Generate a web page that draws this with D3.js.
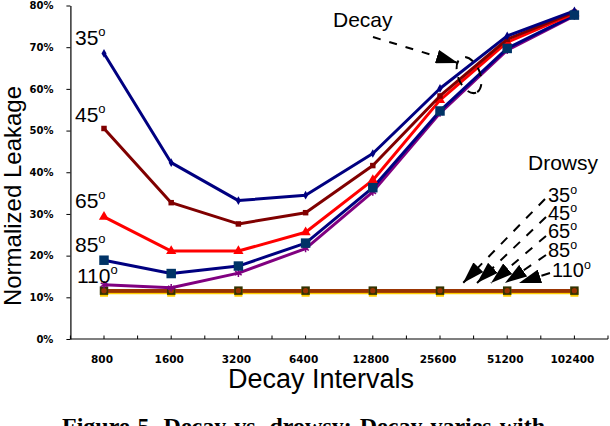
<!DOCTYPE html>
<html><head><meta charset="utf-8">
<script src="https://cdn.jsdelivr.net/npm/d3@7"></script>
<style>body{margin:0;background:#fff}svg{display:block}</style>
</head><body>
<svg id="c" width="610" height="426"></svg>
<script>
// ---- data ----
const categories = ["800","1600","3200","6400","12800","25600","51200","102400"];
const yTickValues = [0,0.1,0.2,0.3,0.4,0.5,0.6,0.7,0.8];
const decay35  = [0.685,0.423,0.332,0.345,0.445,0.601,0.727,0.787];
const decay45  = [0.505,0.327,0.276,0.303,0.416,0.583,0.719,0.784];
const decay65  = [0.293,0.211,0.211,0.256,0.381,0.573,0.712,0.781];
const decay85  = [0.189,0.157,0.175,0.230,0.363,0.547,0.697,0.777];
const decay110 = [0.130,0.123,0.158,0.217,0.353,0.542,0.693,0.775];
const drowsy110 = [0.111,0.111,0.111,0.111,0.111,0.111,0.111,0.111];
const drowsy85  = [0.115,0.115,0.115,0.115,0.115,0.115,0.115,0.115];
const drowsy65  = [0.115,0.115,0.115,0.115,0.115,0.115,0.115,0.115];
const drowsy45  = [0.116,0.116,0.116,0.116,0.116,0.116,0.116,0.116];
const drowsy35  = [0.116,0.116,0.116,0.116,0.116,0.116,0.116,0.116];
const angleLabels = ["35","45","65","85","110"];

const svg = d3.select("#c");
const x = d3.scaleBand().domain(categories).range([70.4, 608]).padding(0);
const y = d3.scaleLinear().domain([0, 0.8]).range([339, 5.5]);
const cx = c => x(c) + x.bandwidth()/2;
const font = "Arial, 'Liberation Sans'";
const tickFont = "'DejaVu Sans', Verdana, sans-serif";

// defs
const defs = svg.append("defs");
defs.append("marker").attr("id","ah").attr("viewBox","0 0 22 14")
  .attr("refX",22).attr("refY",7).attr("markerWidth",22).attr("markerHeight",14)
  .attr("markerUnits","userSpaceOnUse").attr("orient","auto")
  .append("path").attr("d","M0,0 L22,7 L0,14 Z").attr("fill","#000");

// axes
const yAxis = d3.axisLeft(y).tickValues(yTickValues).tickFormat(d3.format(".0%")).tickSize(4).tickSizeOuter(0);
const gy = svg.append("g").attr("transform","translate(70.4,0)").call(yAxis);
gy.select(".domain").attr("stroke","#000").attr("stroke-width",1.2);
gy.selectAll(".tick line").attr("stroke","#000");
gy.selectAll("text").attr("font-family",tickFont).attr("font-weight","bold")
  .attr("font-size",10).attr("x",-17).attr("fill","#000");

// x axis line + ticks at every half band
svg.append("line").attr("x1",x.range()[0]).attr("x2",x.range()[1]).attr("y1",y(0)).attr("y2",y(0))
  .attr("stroke","#000").attr("stroke-width",1.2);
const halfTicks = [];
categories.forEach(c => { halfTicks.push(x(c)); halfTicks.push(cx(c)); });
halfTicks.push(x.range()[1]);
svg.append("g").selectAll("line").data(halfTicks).join("line")
  .attr("x1",d=>d).attr("x2",d=>d).attr("y1",y(0)).attr("y2",y(0)-3.5).attr("stroke","#000");
svg.append("g").selectAll("text").data(categories).join("text")
  .attr("x",c=>cx(c)-2).attr("y",363).attr("text-anchor","middle")
  .attr("font-family",tickFont).attr("font-weight","bold").attr("font-size",10.5)
  .text(c=>c);

// titles
svg.append("text").attr("x",321).attr("y",388).attr("text-anchor","middle")
  .attr("font-family",font).attr("font-size",27).text("Decay Intervals");
svg.append("text").attr("transform","translate(21,196) rotate(-90)").attr("text-anchor","middle")
  .attr("font-family",font).attr("font-size",24).text("Normalized Leakage");

// series
const line = d3.line().x((d,i)=>cx(categories[i])).y(d=>y(d));
function drawSeries(vals, color, width) {
  svg.append("path").datum(vals).attr("d",line).attr("fill","none")
    .attr("stroke",color).attr("stroke-width",width).attr("stroke-linejoin","round");
}
function drawMarkers(vals, type, size, fill, stroke, sw) {
  svg.append("g").selectAll("path").data(vals).join("path")
    .attr("transform",(d,i)=>`translate(${cx(categories[i])},${y(d)})`)
    .attr("d",d3.symbol().type(type).size(size))
    .attr("fill",fill).attr("stroke",stroke||"none").attr("stroke-width",sw||0);
}

// drowsy
drawSeries(drowsy110, "#FFCC00", 3);
drawSeries(drowsy85, "#993300", 3);
drawSeries(drowsy65, "#993300", 3);
drawSeries(drowsy45, "#993300", 3);
drawSeries(drowsy35, "#993300", 3);
drawMarkers(drowsy110, d3.symbolSquare, 64, "#FFCC00");
drawMarkers(drowsy35, d3.symbolSquare, 72, "#333300");
drawMarkers(drowsy35, d3.symbolCircle, 22, "#993300");

// decay
drawSeries(decay110, "#800080", 3);
drawMarkers(decay110, d3.symbolAsterisk, 40, "none", "#800080", 1.5);
drawSeries(decay85, "#000080", 3);
drawSeries(decay65, "#FF0000", 3);
drawMarkers(decay65, d3.symbolTriangle, 45, "#FF0000");
drawSeries(decay45, "#800000", 3);
drawMarkers(decay45, d3.symbolSquare, 30, "#800000");
drawSeries(decay35, "#000080", 3);
drawMarkers(decay35, d3.symbolDiamond, 22, "#000080");
drawMarkers(decay85, d3.symbolSquare, 90, "#003366");

// angle labels
function degLabel(xp, yp, txt, size) {
  const t = svg.append("text").attr("x",xp).attr("y",yp).attr("font-family",font).attr("font-size",size);
  t.append("tspan").text(txt);
  t.append("tspan").attr("font-size",size*0.62).attr("dy",-size*0.42).text("o");
  return t;
}
const leftLabelBase = [45,122,208,252,283];
const leftLabelX = [75,75,75,75,77];
angleLabels.forEach((a,i)=>degLabel(leftLabelX[i], leftLabelBase[i], a, 21));

// Decay annotation
svg.append("text").attr("x",333).attr("y",27).attr("font-family",font).attr("font-size",21).text("Decay");
svg.append("line").attr("x1",373).attr("y1",37).attr("x2",458).attr("y2",63)
  .attr("stroke","#000").attr("stroke-width",2).attr("stroke-dasharray","8,9").attr("marker-end","url(#ah)");
svg.append("ellipse").attr("cx",0).attr("cy",0).attr("rx",19).attr("ry",11)
  .attr("transform","translate(469,75) rotate(68)")
  .attr("fill","none").attr("stroke","#000").attr("stroke-width",2).attr("stroke-dasharray","9,8");

// Drowsy annotation
svg.append("text").attr("x",528).attr("y",170).attr("font-family",font).attr("font-size",21).text("Drowsy");
const rightLabelBase = [202,220,238,257,277];
const rightLabelX = [548,548,548,548,552];
angleLabels.forEach((a,i)=>degLabel(rightLabelX[i], rightLabelBase[i], a, 20));
const arrowStart = [[545,199],[546,217],[546,236],[546,255],[550,273]];
const arrowEnd = [[463,283],[477,283],[491,283],[505,283],[519,283]];
arrowStart.forEach((s,i)=>{
  svg.append("line").attr("x1",s[0]).attr("y1",s[1]).attr("x2",arrowEnd[i][0]).attr("y2",arrowEnd[i][1])
    .attr("stroke","#000").attr("stroke-width",2).attr("stroke-dasharray","9,9").attr("marker-end","url(#ah)");
});

// caption (cut off at the bottom, as in the reference)
svg.append("text").attr("x",62).attr("y",434)
  .attr("font-family","'Liberation Serif','Times New Roman',serif").attr("font-weight","bold")
  .attr("font-size",24).attr("word-spacing",2).text("Figure 5. Decay vs. drowsy: Decay varies with");
</script>
</body></html>
